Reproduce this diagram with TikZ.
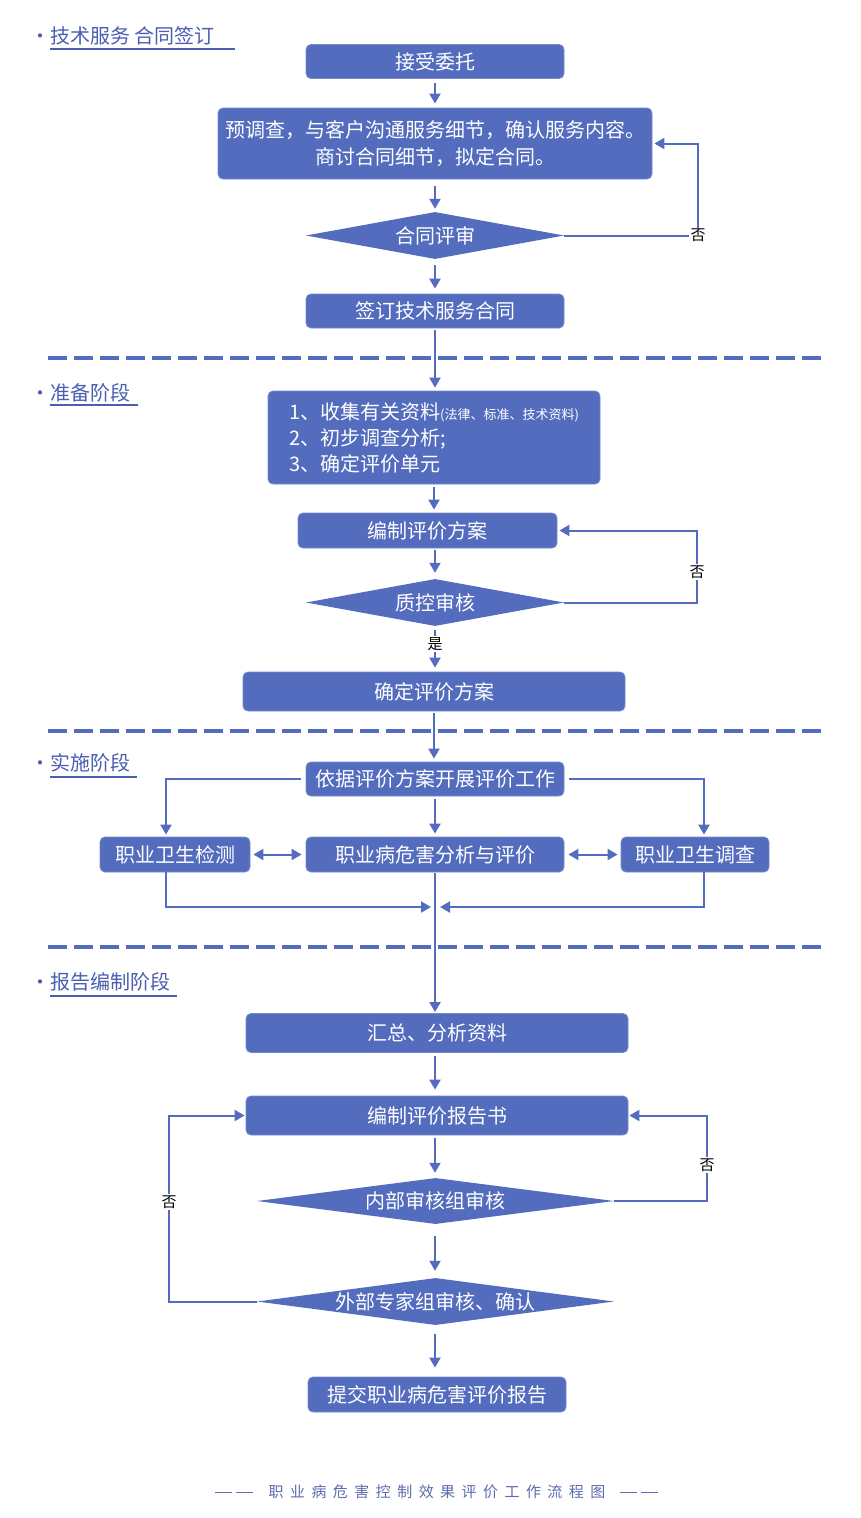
\documentclass[tikz,border=0pt]{standalone}
\usepackage{fontspec}
\setmainfont{Noto Sans CJK SC}
\newfontfamily\footfont[LetterSpace=43]{Noto Sans CJK SC}
\usetikzlibrary{shapes.geometric,arrows.meta}
\definecolor{bx}{HTML}{536CBE}
\definecolor{ttl}{HTML}{4A5EB2}
\definecolor{ft}{HTML}{5D6CAE}
\newcommand{\ttldot}{\makebox[10pt][l]{\makebox[0pt]{·}}}
\newcommand{\ftdash}{\raisebox{4.5pt}{\rule{17pt}{0.9pt}}}
\tikzset{
  box/.style={fill=bx, draw=bx!80!white, line width=0.8pt, rounded corners=5pt, text=white, inner sep=0pt, align=center, font=\fontsize{20}{27}\selectfont},
  dia/.style={diamond, fill=bx, draw=none, text=white, inner sep=0pt, font=\fontsize{20}{24}\selectfont},
  ar/.style={draw=bx, line width=2pt, -{Triangle[length=10pt,width=11pt]}, shorten >=3pt},
  dar/.style={draw=bx, line width=2pt, {Triangle[length=10pt,width=11pt]}-{Triangle[length=10pt,width=11pt]}, shorten >=3pt, shorten <=3pt},
  sepline/.style={draw=bx, line width=4pt, dash pattern=on 19pt off 7pt},
  lab/.style={fill=white, text=black, inner sep=1.5pt, font=\fontsize{15}{17}\selectfont},
  ttlnode/.style={text=ttl, anchor=west, inner sep=0pt, font=\fontsize{20}{24}\selectfont},
  uline/.style={draw=ttl, line width=1.5pt},
}
\begin{document}
\begin{tikzpicture}[x=1pt,y=-1pt]
\useasboundingbox[fill=white] (0,0) rectangle (860,1518);

% section titles
\node[ttlnode] (t1) at (40,36) {\ttldot 技术服务 合同签订};
\draw[uline] (50,49) -- (235,49);
\node[ttlnode] (t2) at (40,393) {\ttldot 准备阶段};
\draw[uline] (50,405) -- (138,405);
\node[ttlnode] (t3) at (40,763) {\ttldot 实施阶段};
\draw[uline] (50,777) -- (137,777);
\node[ttlnode] (t4) at (40,982) {\ttldot 报告编制阶段};
\draw[uline] (50,996) -- (177,996);

% separators
\draw[sepline] (48,358) -- (826,358);
\draw[sepline] (48,731) -- (826,731);
\draw[sepline] (48,947) -- (826,947);

% nodes
\node[box, minimum width=258pt, minimum height=34pt] (n1) at (435,61.5) {接受委托};
\node[box, minimum width=434pt, minimum height=71pt] (n2) at (435,143.5) {预调查，与客户沟通服务细节，确认服务内容。\\商讨合同细节，拟定合同。};
\node[dia, minimum width=258pt, minimum height=47pt] (d1) at (435,235.5) {\makebox[0pt]{合同评审}};
\node[box, minimum width=258pt, minimum height=34pt] (n3) at (435,311) {签订技术服务合同};
\node[box, minimum width=332pt, minimum height=93pt, align=left, font=\fontsize{20}{26}\selectfont] (n4) at (434,437.5) {1、收集有关资料{\fontsize{13}{13}\selectfont(法律、标准、技术资料)}\\2、初步调查分析;\\3、确定评价单元};
\node[box, minimum width=259pt, minimum height=35pt] (n5) at (427.5,530.5) {编制评价方案};
\node[dia, minimum width=258pt, minimum height=47pt] (d2) at (435,602.5) {\makebox[0pt]{质控审核}};
\node[box, minimum width=382pt, minimum height=39pt] (n6) at (434,691.5) {确定评价方案};
\node[box, minimum width=258pt, minimum height=34pt] (n7) at (435,779) {依据评价方案开展评价工作};
\node[box, minimum width=150pt, minimum height=35pt] (n8) at (175,854.5) {职业卫生检测};
\node[box, minimum width=258pt, minimum height=35pt] (n9) at (435,854.5) {职业病危害分析与评价};
\node[box, minimum width=148pt, minimum height=35pt] (n10) at (695,854.5) {职业卫生调查};
\coordinate (m) at (435,907);
\coordinate (col) at (435,0);
\node[box, minimum width=382pt, minimum height=39pt] (n11) at (437,1033) {汇总、分析资料};
\node[box, minimum width=382pt, minimum height=39pt] (n12) at (437,1115.5) {编制评价报告书};
\node[dia, minimum width=357pt, minimum height=46pt] (d3) at (435.5,1201) {\makebox[0pt]{内部审核组审核}};
\node[dia, minimum width=357pt, minimum height=47pt] (d4) at (435.5,1301.5) {\makebox[0pt]{外部专家组审核、确认}};
\node[box, minimum width=258pt, minimum height=35pt] (n13) at (437,1394.5) {提交职业病危害评价报告};

% main flow
\draw[ar, shorten <=4pt, shorten >=4pt] (n1.south) -- (n1.south |- n2.north);
\draw[ar, shorten <=7pt, shorten >=3pt] (n2.south) -- (n2.south |- d1.north);
\draw[ar, shorten <=6pt, shorten >=5pt] (d1.south) -- (d1.south |- n3.north);
\draw[ar, shorten <=2pt, shorten >=3pt] (n3.south) -- (n3.south |- n4.north);
\draw[ar, shorten <=3pt, shorten >=3pt] (n4.south) -- (n4.south |- n5.north);
\draw[ar, shorten <=2pt, shorten >=6pt] (d2.north |- n5.south) -- (d2.north);
\draw[ar, shorten <=4pt, shorten >=4pt] (d2.south) -- node[lab, pos=0.4] (yes) {是} (d2.south |- n6.north);
\draw[ar, shorten <=2pt, shorten >=3pt] (n6.south) -- (n6.south |- n7.north);
\draw[ar, shorten <=3pt, shorten >=3pt] (n7.south) -- (n7.south |- n9.north);
\draw[ar, shorten <=5pt, shorten >=2pt] (n7.west) -| ([xshift=-9pt]n8.north);
\draw[ar, shorten <=5pt, shorten >=2pt] (n7.east) -| ([xshift=9pt]n10.north);
\draw[dar, shorten <=3pt, shorten >=4pt] (n8.east) -- (n9.west);
\draw[dar, shorten <=4pt, shorten >=3pt] (n9.east) -- (n10.west);
\draw[ar, shorten >=0pt] ([xshift=-9pt]n8.south) |- ([xshift=-4pt]m);
\draw[ar, shorten >=0pt] ([xshift=9pt]n10.south) |- ([xshift=5pt]m);
\draw[ar, shorten <=1pt, shorten >=1pt] (n9.south) -- (n9.south |- n11.north);
\draw[ar, shorten <=3pt, shorten >=6pt] (col |- n11.south) -- (col |- n12.north);
\draw[ar, shorten <=3pt, shorten >=5pt] (col |- n12.south) -- (col |- d3.north);
\draw[ar, shorten <=12pt, shorten >=7pt] (col |- d3.south) -- (col |- d4.north);
\draw[ar, shorten <=9pt, shorten >=9pt] (col |- d4.south) -- (col |- n13.north);

% feedback loops
\coordinate (fr1) at (698,0);
\draw[ar, shorten >=2pt] (d1.east) -| (fr1 |- n2.east) -- (n2.east);
\node[lab] (no1) at (fr1 |- d1.east) {否};
\coordinate (fr2) at (697,0);
\draw[ar, shorten >=2pt] (d2.east) -| (fr2 |- n5.east) -- (n5.east);
\node[lab] (no2) at (697,572) {否};
\coordinate (fr3) at (707,0);
\draw[ar, shorten >=1pt] (d3.east) -| (fr3 |- n12.east) -- (n12.east);
\node[lab] (no3) at (707,1165) {否};
\coordinate (fl) at (169,0);
\draw[ar, shorten >=1pt] (d4.west) -| (fl |- n12.west) -- (n12.west);
\node[lab] (no4) at (169,1202) {否};

% footer
\node[text=ft, inner sep=0pt, font=\fontsize{15}{18}\footfont] (ftr) at (436.5,1492) {{\color{ft}\ftdash\hspace{4pt}\ftdash}\hspace{16pt}职业病危害控制效果评价工作流程图\hspace{15pt}{\color{ft}\ftdash\hspace{4pt}\ftdash}};
\end{tikzpicture}
\end{document}
